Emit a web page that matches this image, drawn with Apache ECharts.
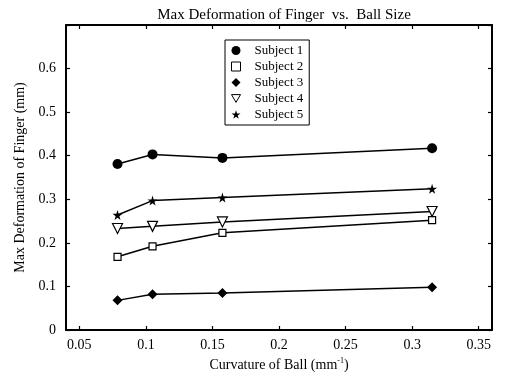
<!DOCTYPE html>
<html>
<head>
<meta charset="utf-8">
<script src="https://cdn.jsdelivr.net/npm/echarts@6/dist/echarts.min.js"></script>
<style>
  html, body { margin: 0; padding: 0; background: #fff; }
  #chart { width: 509px; height: 377px; }
</style>
</head>
<body>
<div id="chart"></div>
<script>
  // curvature of each ball (1/radius, mm^-1)
  const curvature = [0.0787, 0.105, 0.1575, 0.315]
  const subject1 = [0.381, 0.403, 0.395, 0.417]
  const subject2 = [0.168, 0.192, 0.223, 0.252]
  const subject3 = [0.068, 0.082, 0.085, 0.098]
  const subject4 = [0.233, 0.238, 0.248, 0.272]
  const subject5 = [0.264, 0.297, 0.304, 0.324]
  const xTicks = [0.05, 0.1, 0.15, 0.2, 0.25, 0.3, 0.35]

  const serif = '"Liberation Serif", "DejaVu Serif", serif'
  const star = 'path://M50,0L61,35L98,35L68,57L79,91L50,70L21,91L32,57L2,35L39,35Z'
  const triDown = 'path://M0,0L10,0L5,8.66Z'

  const pairs = ys => curvature.map((x, i) => [x, ys[i]])

  function makeSeries(name, ys, symbol, size, filled) {
    return {
      name: name,
      type: 'line',
      data: pairs(ys),
      symbol: symbol,
      symbolSize: size,
      showAllSymbol: true,
      lineStyle: {color: '#000', width: 1.5},
      itemStyle: {
        color: filled ? '#000' : '#fff',
        borderColor: '#000',
        borderWidth: filled ? 0 : 1.2
      },
      emphasis: {disabled: true},
      z: 3
    }
  }

  const edge = {onZero: false, lineStyle: {color: '#000', width: 2}}
  const tickIn = {inside: true, length: 4, lineStyle: {color: '#000', width: 1.2}}

  echarts.init(document.getElementById('chart')).setOption({
    animation: false,
    title: {
      text: 'Max Deformation of Finger  vs.  Ball Size',
      left: 279, top: 3, textAlign: 'center',
      textStyle: {fontFamily: serif, fontSize: 15, fontWeight: 'normal', color: '#000'}
    },
    legend: {
      orient: 'vertical',
      left: 225, top: 40,
      padding: [4, 6, 4, 6],
      itemGap: 3,
      itemWidth: 9, itemHeight: 9,
      borderColor: '#000', borderWidth: 1,
      textStyle: {fontFamily: serif, fontSize: 13, color: '#000', padding: [0, 0, 0, 9]},
      data: [
        {name: 'Subject 1', icon: 'circle'},
        {name: 'Subject 2', icon: 'rect', itemStyle: {color: '#fff', borderColor: '#000', borderWidth: 1}},
        {name: 'Subject 3', icon: 'diamond'},
        {name: 'Subject 4', icon: triDown, itemStyle: {color: '#fff', borderColor: '#000', borderWidth: 1}},
        {name: 'Subject 5', icon: star}
      ]
    },
    grid: {left: 66, right: 17, top: 25, bottom: 47},
    xAxis: [{
      type: 'value', min: 0.04, max: 0.36,
      name: 'Curvature of Ball (mm{sup|-1})',
      nameLocation: 'middle', nameGap: 24,
      nameTextStyle: {
        fontFamily: serif, fontSize: 14, color: '#000',
        rich: {sup: {fontFamily: serif, fontSize: 8, color: '#000', verticalAlign: 'top', padding: [0, 0, 8, 0]}}
      },
      axisLine: edge,
      axisTick: Object.assign({customValues: xTicks}, tickIn),
      axisLabel: {customValues: xTicks, fontFamily: serif, fontSize: 14, color: '#000', margin: 8},
      splitLine: {show: false}
    }, {
      type: 'value', min: 0.04, max: 0.36, position: 'top',
      axisLine: edge,
      axisTick: Object.assign({customValues: xTicks}, tickIn),
      axisLabel: {show: false},
      splitLine: {show: false}
    }],
    yAxis: [{
      type: 'value', min: 0, max: 0.7, interval: 0.1,
      name: 'Max Deformation of Finger (mm)',
      nameLocation: 'middle', nameGap: 38,
      nameTextStyle: {fontFamily: serif, fontSize: 14, color: '#000'},
      axisLine: edge,
      axisTick: tickIn,
      axisLabel: {
        fontFamily: serif, fontSize: 14, color: '#000', margin: 10,
        formatter: v => v > 0.65 ? '' : String(Math.round(v * 10) / 10)
      },
      splitLine: {show: false}
    }, {
      type: 'value', min: 0, max: 0.7, interval: 0.1, position: 'right',
      axisLine: edge,
      axisTick: tickIn,
      axisLabel: {show: false},
      splitLine: {show: false}
    }],
    series: [
      makeSeries('Subject 1', subject1, 'circle', 10, true),
      makeSeries('Subject 2', subject2, 'rect', 7, false),
      makeSeries('Subject 3', subject3, 'diamond', 10, true),
      makeSeries('Subject 4', subject4, triDown, 10, false),
      makeSeries('Subject 5', subject5, star, 10, true)
    ]
  })
</script>
</body>
</html>
